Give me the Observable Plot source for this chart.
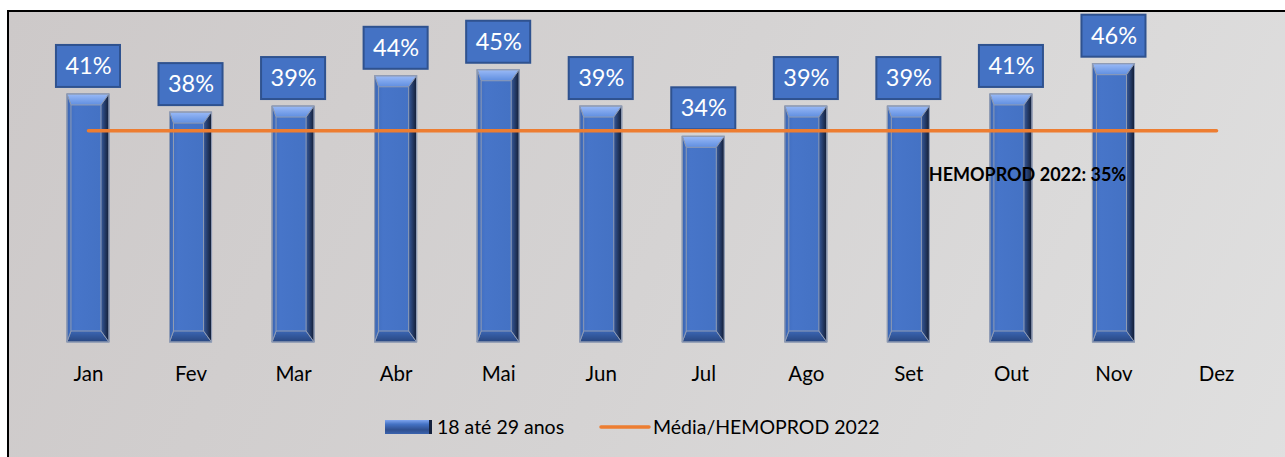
<!DOCTYPE html>
<html><head><meta charset="utf-8">
<script src="https://cdn.jsdelivr.net/npm/d3@7"></script>
<script src="https://cdn.jsdelivr.net/npm/@observablehq/plot@0.6"></script>
<style>
body{margin:0;background:#fff;}
#wrap{position:relative;width:1285px;height:457px;overflow:hidden;font-family:Lato,"Open Sans",sans-serif;}
#frame{position:absolute;left:7px;top:10px;width:1300px;height:470px;border:2px solid #000;background:linear-gradient(115deg,#cdc9c9 0%,#d5d3d3 50%,#e0e0e0 100%);}
#chart{position:absolute;left:0;top:0;}
#legend{position:absolute;left:0;top:400px;width:1285px;height:57px;font-size:19.5px;color:#000;}
#legend .sw{position:absolute;}
#legend .lb{position:absolute;top:14px;line-height:26px;white-space:nowrap;}
</style></head><body>
<div id="wrap">
  <div id="frame"></div>
  <div id="chart"></div>
  <div id="legend">
    <svg class="sw" style="left:385px;top:20px" width="47" height="14">
      <defs><linearGradient id="lgV" x1="0" y1="0" x2="0" y2="1">
        <stop offset="0" stop-color="#7ea4ee"/><stop offset="0.3" stop-color="#4472c4"/><stop offset="0.7" stop-color="#2f4f8f"/><stop offset="1" stop-color="#3a62ad"/></linearGradient></defs>
      <rect x="0" y="0" width="47" height="14" fill="url(#lgV)"/>
      <rect x="44" y="0" width="3" height="14" fill="#15213d"/>
    </svg>
    <span class="lb" id="lb1" style="left:437px"></span>
    <svg class="sw" style="left:599px;top:24px" width="52" height="6"><line x1="2" y1="3" x2="50" y2="3" stroke="#ed7d31" stroke-width="3.5" stroke-linecap="round"/></svg>
    <span class="lb" id="lb2" style="left:653px"></span>
  </div>
</div>
<script>
const months = ["Jan","Fev","Mar","Abr","Mai","Jun","Jul","Ago","Set","Out","Nov","Dez"];
const values = [41, 38, 39, 44, 45, 39, 34, 39, 39, 41, 46, null];
const media = [35, 35, 35, 35, 35, 35, 35, 35, 35, 35, 35, 35];
const seriesName = "18 até 29 anos";
const lineName = "Média/HEMOPROD 2022";
const annotation = "HEMOPROD 2022: 35%";
const annotationMonth = "Out";

document.getElementById("lb1").textContent = seriesName;
document.getElementById("lb2").textContent = lineName;

const rows = months.map((m, i) => ({month: m, value: values[i], media: media[i]}));
const bars = rows.filter(d => d.value != null);
const note = [{month: annotationMonth, media: media[months.indexOf(annotationMonth)], text: annotation}];

const plot = Plot.plot({
  width: 1285, height: 400,
  marginLeft: 36.7, marginRight: 17.7, marginTop: 39.5, marginBottom: 58,
  style: {background: "transparent", fontFamily: "Lato, 'Open Sans', sans-serif", overflow: "visible"},
  x: {domain: months, paddingInner: 0.59, paddingOuter: 0.295, round: false, label: null},
  y: {domain: [0, 50], axis: null},
  marks: [
    Plot.barY(bars, {x: "month", y: "value", fill: "#4472c4", stroke: "#8f9bb3", strokeWidth: 1, className: "bar3d"}),
    Plot.barY(bars, {x: "month", y1: "value", y2: "value", insetTop: -49, insetBottom: 7, insetLeft: -11, insetRight: -11, fill: "#4472c4", stroke: "#2f528f", strokeWidth: 2}),
    Plot.text(bars, {x: "month", y: "value", text: d => d.value + "%", dy: -28, fill: "white", fontSize: 23.5}),
    Plot.lineY(rows, {x: "month", y: "media", stroke: "#ed7d31", strokeWidth: 3.5, strokeLinecap: "round"}),
    Plot.text(note, {x: "month", y: "media", text: "text", dx: 16, dy: 44.5, fill: "#000", fontSize: 18, fontWeight: "bold"}),
    Plot.axisX({tickSize: 0, tickPadding: 24, fontSize: 20.5, fill: "#000", label: null})
  ]
});
document.getElementById("chart").appendChild(plot);

// bevel shading for bars
const svg = d3.select(plot);
const defs = svg.insert("defs", ":first-child");
function grad(id, vertical, stops) {
  const g = defs.append("linearGradient").attr("id", id)
    .attr("x1", 0).attr("y1", 0).attr("x2", vertical ? 0 : 1).attr("y2", vertical ? 1 : 0);
  stops.forEach(([o, c]) => g.append("stop").attr("offset", o).attr("stop-color", c));
}
grad("bTop", true, [[0, "#9abaf7"], [1, "#5f8ee0"]]);
grad("bBot", true, [[0, "#3b66b4"], [1, "#28467f"]]);
grad("bRight", false, [[0, "#36599b"], [1, "#121c33"]]);
grad("bLeft", false, [[0, "#3a63ae"], [1, "#4472c4"]]);
grad("bBody", false, [[0, "#3f6bbb"], [0.2, "#4775c9"], [0.8, "#4472c4"], [1, "#3e68b5"]]);

svg.selectAll(".bar3d rect").each(function() {
  const r = d3.select(this);
  const x = +r.attr("x"), y = +r.attr("y"), w = +r.attr("width"), h = +r.attr("height");
  r.attr("fill", "url(#bBody)");
  const g = d3.select(this.parentNode);
  const bt = 11, bs = 8, bl = 4;
  const P = pts => pts.map(p => p.join(",")).join(" ");
  g.append("polygon").attr("points", P([[x, y], [x + w, y], [x + w - bs, y + bt], [x + bl, y + bt]])).attr("fill", "url(#bTop)");
  g.append("polygon").attr("points", P([[x, y + h], [x + w, y + h], [x + w - bs, y + h - bt], [x + bl, y + h - bt]])).attr("fill", "url(#bBot)");
  g.append("polygon").attr("points", P([[x + w, y], [x + w, y + h], [x + w - bs, y + h - bt], [x + w - bs, y + bt]])).attr("fill", "url(#bRight)");
  g.append("polygon").attr("points", P([[x, y], [x, y + h], [x + bl, y + h - bt], [x + bl, y + bt]])).attr("fill", "url(#bLeft)");
  g.append("rect").attr("x", x).attr("y", y).attr("width", w).attr("height", h).attr("fill", "none").attr("stroke", "#8f9bb3").attr("stroke-width", 1);
});
</script>
</body></html>
